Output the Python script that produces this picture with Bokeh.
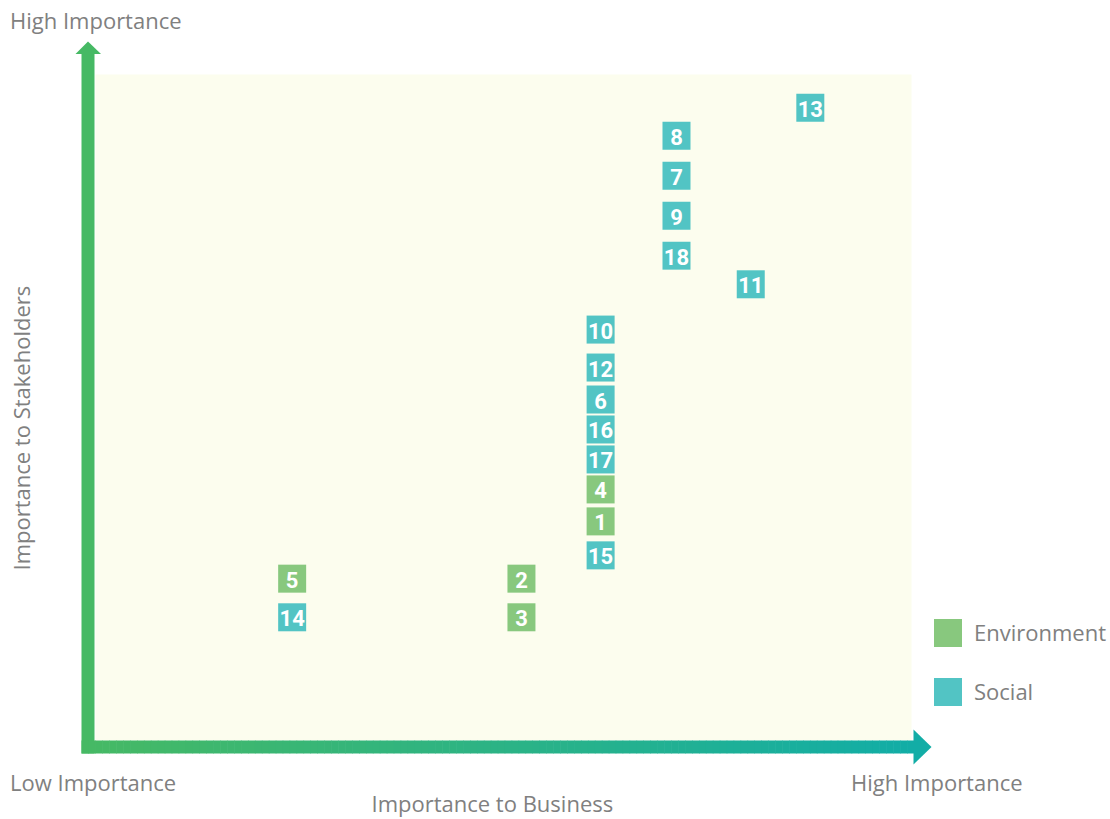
import numpy as np
from bokeh.plotting import figure
from bokeh.models import Range1d, Legend, LegendItem, ColumnDataSource
from bokeh.core.properties import value
from bokeh.embed import file_html
from bokeh.resources import INLINE

# ---------------- data ----------------
categories = ["Environment", "Social"]
category_colors = ["#88C87E", "#52C4C4"]

issue_ids = ["13", "8", "7", "9", "18", "11", "10", "12", "6",
             "16", "17", "4", "1", "15", "5", "2", "14", "3"]
issue_category = ["Social", "Social", "Social", "Social", "Social", "Social",
                  "Social", "Social", "Social", "Social", "Social",
                  "Environment", "Environment", "Social", "Environment",
                  "Environment", "Social", "Environment"]
importance_business = [87.6, 71.2, 71.2, 71.2, 71.2, 80.3, 61.9, 61.9, 61.9,
                       61.9, 61.9, 61.9, 61.9, 61.9, 24.1, 52.2, 24.1, 52.2]
importance_stakeholders = [95.0, 90.8, 84.8, 78.8, 72.8, 68.5, 61.7, 56.0, 51.2,
                           46.7, 42.2, 37.7, 32.9, 27.8, 24.3, 24.3, 18.5, 18.5]

axis_texts = {"y_high": "High Importance", "x_low": "Low Importance",
              "x_high": "High Importance", "x_title": "Importance to Business",
              "y_title": "Importance to Stakeholders"}

# ---------------- layout ----------------
W, H = 1110, 819
PAGE = 0
F_L, F_R, F_T, F_B = 95, 911, 74, 740          # canvas px of the 0..100 field
SX = (F_R - F_L) / 100.0
SY = (F_B - F_T) / 100.0
TXT_SHIFT = 8.5                                 # renderer baseline correction

def dx(px):   # page px -> data x
    return (px - PAGE - F_L) / SX

def dy(py):   # page px -> data y
    return (F_B - (py - PAGE)) / SY

FONT_NAME = "Open Sans"
FONT = value(FONT_NAME)
TXT_COLOR = "#808080"

p = figure(width=W, height=H, output_backend="svg", toolbar_location=None,
           x_range=Range1d(-F_L / SX, (W - F_L) / SX),
           y_range=Range1d(-(H - F_B) / SY, 100 + F_T / SY),
           min_border=0, min_border_left=0, min_border_right=0,
           min_border_top=0, min_border_bottom=0)
p.axis.visible = False
p.xgrid.visible = False
p.ygrid.visible = False
p.outline_line_color = None
p.background_fill_color = "white"
p.border_fill_color = "white"

# background field
p.quad(left=0, right=100, bottom=0, top=100, fill_color="#FCFDEE", line_color=None)

# vertical arrow
green = np.array([0x46, 0xB9, 0x64])
teal = np.array([0x12, 0xAD, 0xA6])
p.quad(left=dx(81), right=dx(94), top=dy(53), bottom=dy(753),
       fill_color="#46B964", line_color=None)
p.patch(x=[dx(75), dx(100.5), dx(87.5)], y=[dy(53.5), dy(53.5), dy(41)],
        fill_color="#46B964", line_color=None)

# horizontal arrow with gradient
n = 120
edges = np.linspace(81, 913.5, n + 1)
cols = []
for i in range(n):
    t = i / (n - 1)
    c = (green * (1 - t) + teal * t).round().astype(int)
    cols.append("#%02X%02X%02X" % tuple(c))
p.quad(left=[dx(e) for e in edges[:-1]], right=[dx(e + 0.6) for e in edges[1:]],
       top=dy(740), bottom=dy(753), fill_color=cols, line_color=None)
p.patch(x=[dx(913), dx(913), dx(931)], y=[dy(729), dy(764), dy(746.5)],
        fill_color="#%02X%02X%02X" % tuple(teal), line_color=None)

# markers
renderers = {}
for cat, col in zip(categories, category_colors):
    idx = [i for i, c in enumerate(issue_category) if c == cat]
    src = ColumnDataSource(dict(
        x=[importance_business[i] for i in idx],
        y=[importance_stakeholders[i] for i in idx],
        label=[issue_ids[i] for i in idx]))
    r = p.rect(x="x", y="y", width=28, height=28, width_units="screen",
               height_units="screen", source=src, fill_color=col, line_color=None)
    p.text(x="x", y="y", text="label", source=src, text_color="white",
           text_font=value("Roboto"), text_font_style="bold",
           text_font_size="22px", text_align="center", text_baseline="middle",
           y_offset=1)
    renderers[cat] = r

# texts
def put(txt, px, py, angle=0):
    if angle:
        px -= TXT_SHIFT
    else:
        py -= TXT_SHIFT
    p.text(x=[dx(px)], y=[dy(py)], text=[txt], angle=angle, text_font=FONT,
           text_font_size="22px", text_color=TXT_COLOR, text_align="left",
           text_baseline="alphabetic")

put(axis_texts["y_high"], 9.5, 27.5)
put(axis_texts["x_low"], 9.5, 789.5)
put(axis_texts["x_high"], 850.5, 789.5)
put(axis_texts["x_title"], 371, 811)
put(axis_texts["y_title"], 28.5, 570, angle=np.pi / 2)

# legend
legend = Legend(items=[LegendItem(label=c, renderers=[renderers[c]]) for c in categories],
                location=(930, H - 708.5), orientation="vertical",
                glyph_width=35, glyph_height=35, spacing=24, label_standoff=9,
                padding=0, margin=0, border_line_color=None,
                background_fill_alpha=0, label_text_font=FONT_NAME,
                label_text_font_size="22px", label_text_color=TXT_COLOR)
p.add_layout(legend)

open("out.html", "w").write(file_html(p, INLINE))
